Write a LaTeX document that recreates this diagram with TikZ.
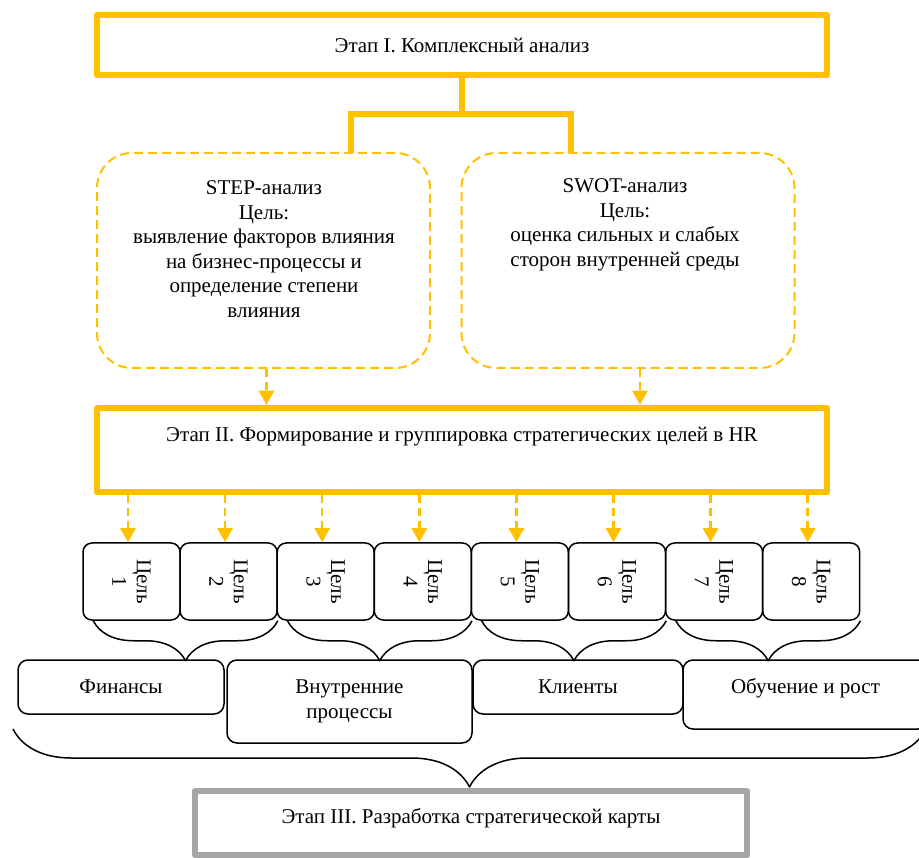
\documentclass[tikz,border=0pt]{standalone}
\usepackage{fontspec}
\setmainfont{Liberation Serif}
\usetikzlibrary{arrows.meta,decorations.pathreplacing,positioning}
\definecolor{orng}{HTML}{FFC000}
\definecolor{grayline}{HTML}{A6A6A6}
\tikzset{
	stagebox/.style={draw=orng, line width=6.5pt, minimum width=730pt},
	dashbox/.style={draw=orng, line width=2pt, dash pattern=on 9pt off 5pt, rounded corners=35pt, minimum width=333pt, minimum height=215pt},
	trunk/.style={draw=orng, line width=6pt},
	dasharrow/.style={draw=orng, line width=2.5pt, dash pattern=on 8pt off 5pt, -{Triangle[width=15pt,length=14pt]}},
	goalbox/.style={draw, line width=1.5pt, rounded corners=9pt, minimum width=97pt, minimum height=77pt},
	catbox/.style={draw, line width=1.5pt, rounded corners=10pt, align=center, inner sep=0pt},
	smallbrace/.style={decorate, decoration={brace, mirror, amplitude=40pt}, line width=1.5pt},
	bigbrace/.style={decorate, decoration={brace, mirror, amplitude=58pt}, line width=1.5pt}
}
\begin{document}
\begin{tikzpicture}[x=1pt, y=-1pt, font=\fontsize{21}{24.5}\selectfont, line join=round]
	\useasboundingbox (0,0) rectangle (919,858);
	
	% Этап I
	\node (s1) [stagebox, minimum height=60] at (462,45) {Этап I. Комплексный анализ};
	\node (step) [dashbox] at (263.5,260.5) {};
	\node (swot) [dashbox] at (628,260.5) {};
	\node (stept) [align=center] at (264,249) {STEP-анализ\\Цель:\\выявление факторов влияния\\на бизнес-процессы и\\определение степени\\влияния};
	\node (swott) [align=center] at (625,225) {SWOT-анализ\\Цель:\\оценка сильных и слабых\\сторон внутренней среды};
	
	\coordinate (fork) at (462,114);
	\coordinate (stepin) at (351,153);
	\coordinate (swotin) at (571,153);
	\draw[trunk] (s1.south) -- (fork);
	\draw[trunk, line join=miter] (stepin) |- (fork) -| (swotin);
	
	% Этап II
	\node (s2) [stagebox, minimum height=84] at (462,450) {};
	\node (s2t) at (462,437) {Этап II. Формирование и группировка стратегических целей в HR};
	
	\coordinate (stepout) at ([xshift=3pt]step.south);
	\coordinate (swotout) at ([xshift=12pt]swot.south);
	\draw[dasharrow] (stepout) -- (stepout |- s2.north);
	\draw[dasharrow] (swotout) -- (swotout |- s2.north);
	
	% цели
	\foreach \i in {1,...,8}{
		\node (g\i) [goalbox] at ({131.5+97.1*(\i-1)},581.5) {};
		\node (g\i t) [rotate=-90, align=center] at (g\i) {Цель\\\i};
		\coordinate (a\i) at ([xshift=-3.5pt]g\i.north);
		\draw[dasharrow] (a\i |- s2.south) -- (a\i);
	}
	\foreach \a/\b in {1/2,3/4,5/6,7/8}
		\draw[smallbrace] ([xshift=11pt]g\a.south west) -- (g\b.south east);
	
	% перспективы
	\node (fin) [catbox, minimum width=206, minimum height=54] at (121,687) {Финансы};
	\node (proc) [catbox, minimum width=245, minimum height=83] at (349.5,701.5) {Внутренние\\процессы};
	\node (cli) [catbox, minimum width=210, minimum height=54] at (578,687) {Клиенты};
	\node (learn) [catbox, minimum width=245, minimum height=69, text depth=17pt] at (805.5,694.5) {Обучение и рост};
	
	\coordinate (bigL) at (13,729);
	\coordinate (bigR) at (926,729);
	\draw[bigbrace] (bigL) -- (bigR);
	
	% Этап III
	\node (s3) [stagebox, draw=grayline, minimum width=552, minimum height=64] at (471,823) {};
	\node (s3t) at (471,818) {Этап III. Разработка стратегической карты};
\end{tikzpicture}
\end{document}
